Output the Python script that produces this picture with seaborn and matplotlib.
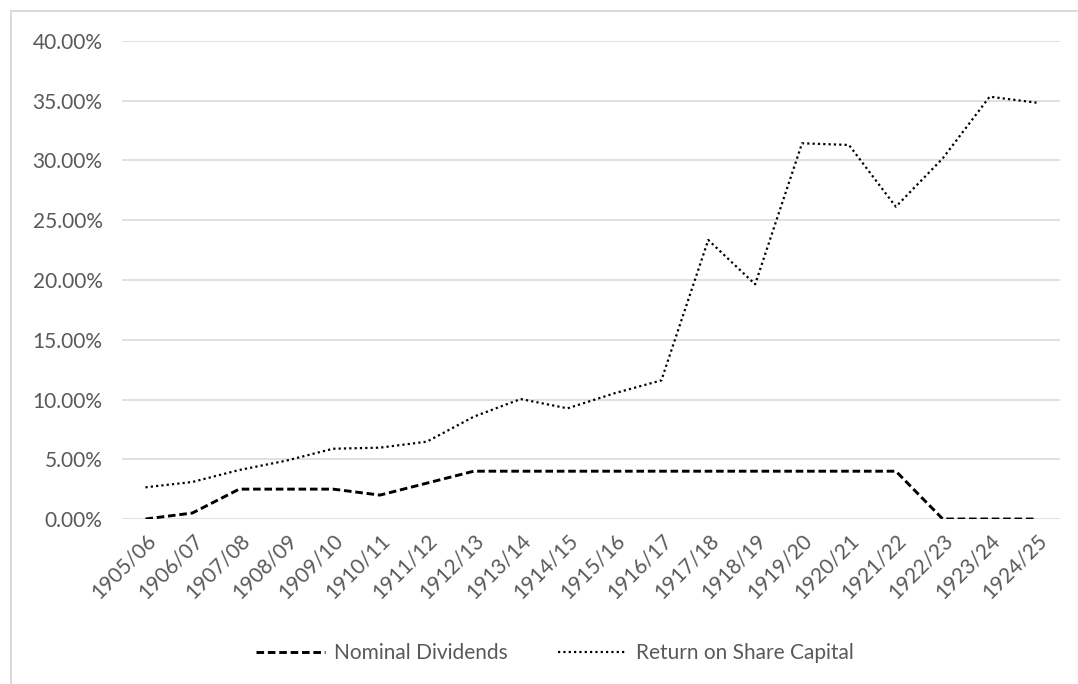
import matplotlib
matplotlib.use("Agg")
import matplotlib.pyplot as plt
from matplotlib.patches import Rectangle
from matplotlib.ticker import FuncFormatter
import pandas as pd
import seaborn as sns

# Financial years
years = ["1905/06", "1906/07", "1907/08", "1908/09", "1909/10", "1910/11",
         "1911/12", "1912/13", "1913/14", "1914/15", "1915/16", "1916/17",
         "1917/18", "1918/19", "1919/20", "1920/21", "1921/22", "1922/23",
         "1923/24", "1924/25"]

# Nominal dividends (fraction)
nominal_dividends = [0.000, 0.005, 0.025, 0.025, 0.025, 0.020, 0.030, 0.040,
                     0.040, 0.040, 0.040, 0.040, 0.040, 0.040, 0.040, 0.040,
                     0.040, 0.000, 0.000, 0.000]

# Return on share capital (fraction)
return_on_capital = [0.0265, 0.0310, 0.0410, 0.0488, 0.0588, 0.0597, 0.0647,
                     0.0856, 0.1004, 0.0926, 0.1052, 0.1160, 0.2335, 0.1964,
                     0.3144, 0.3130, 0.2613, 0.3018, 0.3534, 0.3484]

series_names = ["Nominal Dividends", "Return on Share Capital"]

df = pd.concat([
    pd.DataFrame({"year": years, "value": nominal_dividends, "series": series_names[0]}),
    pd.DataFrame({"year": years, "value": return_on_capital, "series": series_names[1]}),
])

sns.set_theme(style="white")
plt.rcParams["font.family"] = ["Lato", "DejaVu Sans"]

text_grey = "#595959"
grid_grey = "#d9d9d9"
font_size = 15

fig = plt.figure(figsize=(10.78, 6.84), dpi=100)
ax = fig.add_axes([122 / 1078, 1 - 519 / 684, (1060 - 122) / 1078, (519 - 41) / 684])

sns.lineplot(
    data=df, x="year", y="value", style="series",
    dashes={series_names[0]: (2.6, 1.3), series_names[1]: (1.0, 1.4)},
    color="black", ax=ax, legend=False, sort=False,
)
for line, lw in zip(ax.lines, [2.1, 1.6]):
    line.set_linewidth(lw)

ax.set_xlim(-0.5, len(years) - 0.5)
ax.set_ylim(0, 0.40)
ax.set_yticks([i * 0.05 for i in range(9)])
ax.yaxis.set_major_formatter(FuncFormatter(lambda v, _: f"{v * 100:.2f}%"))
ax.set_xticks(range(len(years)))
ax.set_xticklabels(years, rotation=45, ha="right", rotation_mode="anchor")

ax.set_xlabel("")
ax.set_ylabel("")
ax.grid(axis="y", color=grid_grey, linewidth=1.1)
ax.grid(axis="x", visible=False)
ax.set_axisbelow(True)
for spine in ax.spines.values():
    spine.set_visible(False)
ax.tick_params(axis="both", length=0, labelsize=font_size, colors=text_grey)
ax.tick_params(axis="y", pad=14)
ax.tick_params(axis="x", pad=8)

# Legend below the plot
handles = [
    plt.Line2D([], [], color="black", linewidth=2.1, dashes=(2.6, 1.3)),
    plt.Line2D([], [], color="black", linewidth=1.6, dashes=(1.0, 1.4)),
]
leg = fig.legend(
    handles, series_names, loc="center", bbox_to_anchor=(555 / 1078, 1 - 653 / 684),
    ncol=2, frameon=False, fontsize=font_size, handlelength=3.3, handletextpad=0.45,
    columnspacing=2.4,
)
for t in leg.get_texts():
    t.set_color(text_grey)

# Chart area border
fig.add_artist(Rectangle((10.5 / 1078, -0.1), 1.2, 1 - 11 / 684 + 0.1,
                         transform=fig.transFigure, fill=False,
                         edgecolor=grid_grey, linewidth=1.4))

fig.savefig("out.png", dpi=100)
